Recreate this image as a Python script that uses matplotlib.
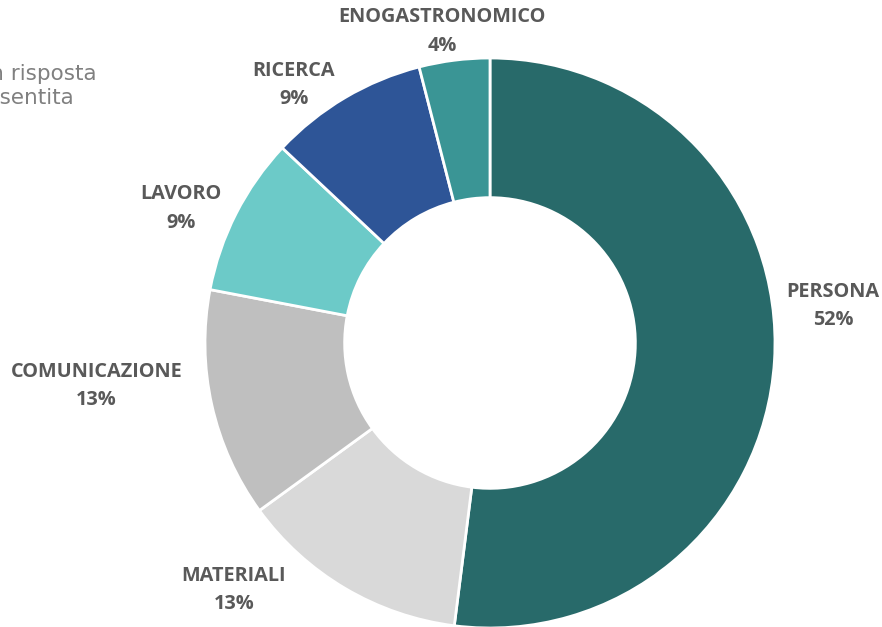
import numpy as np
from matplotlib import pyplot as plt

categories = ['PERSONA', 'MATERIALI', 'COMUNICAZIONE', 'LAVORO', 'RICERCA', 'ENOGASTRONOMICO']
values = [52, 13, 13, 9, 9, 4]
colors = ['#286a6a', '#d9d9d9', '#bfbfbf', '#6ccac8', '#2e5597', '#3a9595']

# label placement (angle in degrees, distance in px from centre)
lab_ang = [6.2, 224, 186.2, 156.5, 127.3, 98.7]
lab_dist = [345, 356, 396, 337, 324, 315]

W, H = 882, 627
cx, cy, R = 490, H - 343, 285

fig = plt.figure(figsize=(W / 100, H / 100), dpi=100)
ax = fig.add_axes([0, 0, 1, 1])
ax.pie(values, colors=colors, startangle=90, counterclock=False,
       radius=R, center=(cx, cy),
       wedgeprops=dict(width=R * 0.49, edgecolor='white', linewidth=2))
ax.set_xlim(0, W)
ax.set_ylim(0, H)
ax.set_aspect('equal')
ax.axis('off')

total = sum(values)
for name, v, a, d in zip(categories, values, lab_ang, lab_dist):
    t = np.deg2rad(a)
    ax.text(cx + d * np.cos(t), cy + d * np.sin(t),
            '%s\n%d%%' % (name, round(100 * v / total)),
            ha='center', va='center', multialignment='center',
            fontsize=14.3, fontweight='bold', color='#595959',
            family='Open Sans', linespacing=1.55)

# left note, cut off by the figure edge as in the original
ax.text(-38, H - 86, 'Con risposta\nconsentita', ha='left', va='center',
        fontsize=15.5, color='#808080', family='DejaVu Sans', linespacing=1.25)

plt.savefig('out.png', dpi=100)
